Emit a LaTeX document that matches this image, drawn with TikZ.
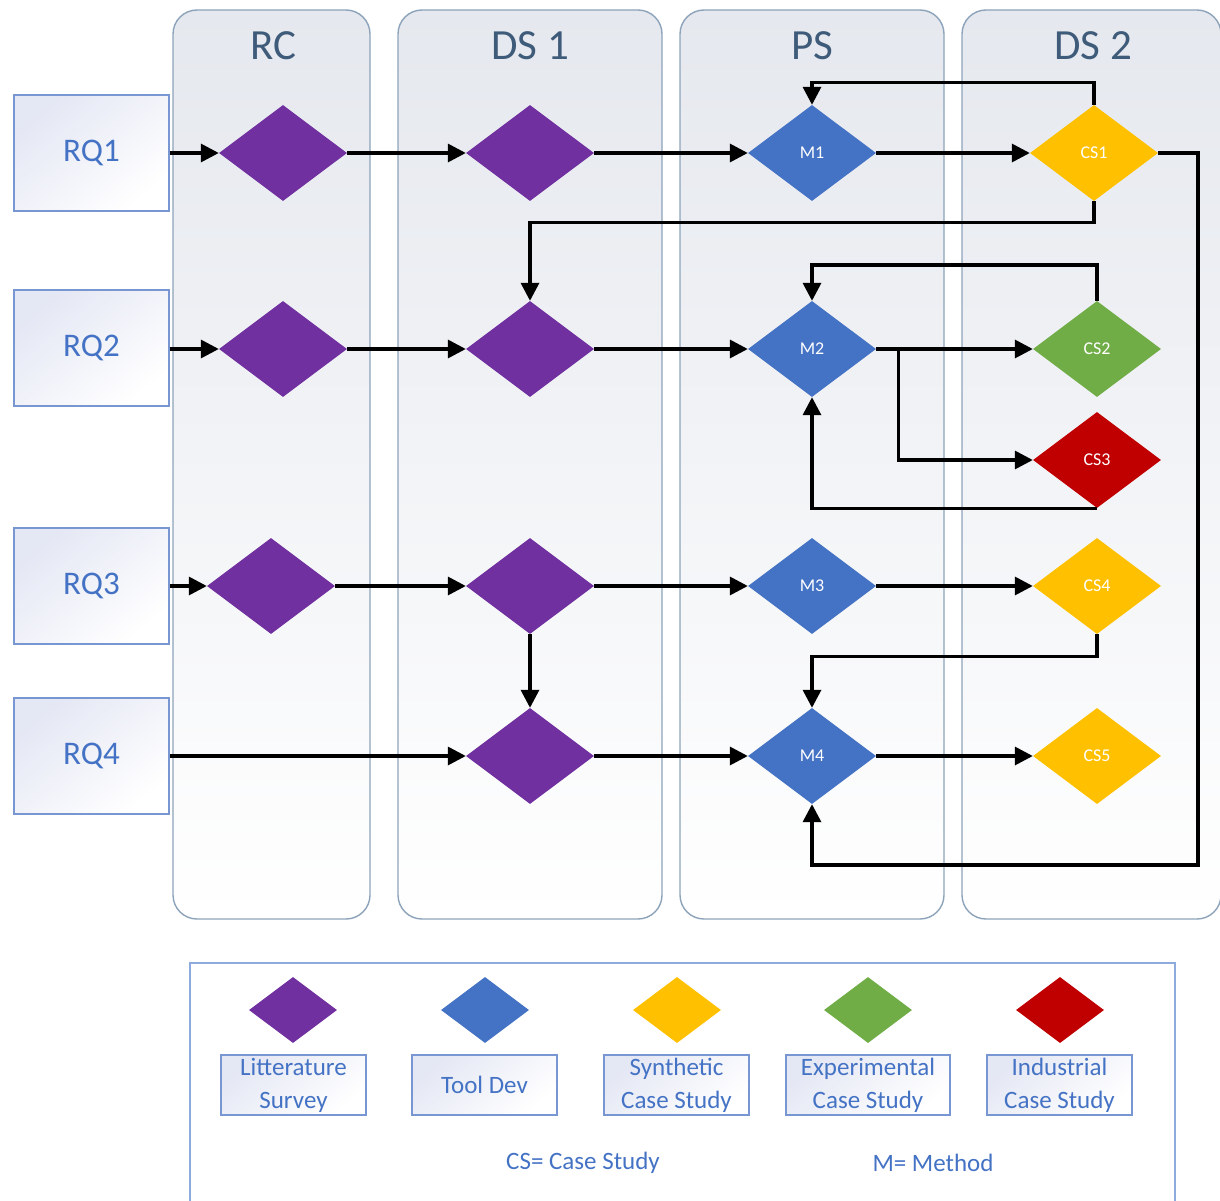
\documentclass[tikz,border=0pt]{standalone}
\usepackage{fontspec}
\setmainfont{Carlito}
\usetikzlibrary{shapes.geometric,arrows.meta}

\definecolor{laneBd}{HTML}{8DA3BA}
\definecolor{laneTop}{HTML}{E5E8EE}
\definecolor{laneTxt}{HTML}{3F5B7A}
\definecolor{rqBd}{HTML}{7896D2}
\definecolor{rqFill}{HTML}{E4E7F4}
\definecolor{rqTxt}{HTML}{4472C4}
\definecolor{legBd}{HTML}{8FAADC}
\definecolor{cPurple}{HTML}{7030A0}
\definecolor{cBlue}{HTML}{4472C4}
\definecolor{cYellow}{HTML}{FFC000}
\definecolor{cGreen}{HTML}{70AD47}
\definecolor{cRed}{HTML}{C00000}

\tikzset{
  lane/.style={draw=laneBd, line width=1.4pt, rounded corners=24pt,
    top color=laneTop, bottom color=white},
  lanetitle/.style={text=laneTxt, font=\fontsize{43}{48}\selectfont},
  rqbox/.style={draw=rqBd, line width=1.4pt, minimum width=155pt, minimum height=116pt,
    top color=rqFill, bottom color=white, shading angle=40,
    text=rqTxt, font=\fontsize{33}{38}\selectfont},
  dia/.style={diamond, minimum width=128pt, minimum height=96pt, inner sep=0pt,
    text=white, font=\fontsize{18}{20}\selectfont},
  legdia/.style={diamond, minimum width=88pt, minimum height=66pt, inner sep=0pt},
  legbox/.style={draw=rqBd, line width=1.4pt, minimum width=145pt, minimum height=60pt,
    top color=rqFill, bottom color=white, shading angle=40, inner sep=0pt,
    text=rqTxt, align=center, font=\fontsize{25}{33}\selectfont},
  legnote/.style={text=rqTxt, font=\fontsize{25}{28}\selectfont},
  arr/.style={line width=3.4pt, -{Triangle[length=18pt,width=18pt]}},
}

\begin{document}
\begin{tikzpicture}[x=1pt,y=-1pt]
\useasboundingbox (0,0) rectangle (1220,1201);

% swim lanes
\draw[lane] (173,10) rectangle (370,919);
\draw[lane] (398,10) rectangle (662,919);
\draw[lane] (680,10) rectangle (944,919);
\draw[lane] (962,10) rectangle (1221,919);
\node[lanetitle] (tRC)  at (273,46) {RC};
\node[lanetitle] (tDS1) at (530,46) {DS 1};
\node[lanetitle] (tPS)  at (812,46) {PS};
\node[lanetitle] (tDS2) at (1093,46) {DS 2};

% research questions
\node[rqbox] (rq1) at (91.5,153) {RQ1};
\node[rqbox] (rq2) at (91.5,348) {RQ2};
\node[rqbox] (rq3) at (91.5,586) {RQ3};
\node[rqbox] (rq4) at (91.5,756) {RQ4};

% RC column
\node[dia, fill=cPurple] (rc1) at (283,153) {};
\node[dia, fill=cPurple] (rc2) at (283,349) {};
\node[dia, fill=cPurple] (rc3) at (271,586) {};

% DS 1 column
\node[dia, fill=cPurple] (ds1) at (530,153) {};
\node[dia, fill=cPurple] (ds2) at (530,349) {};
\node[dia, fill=cPurple] (ds3) at (530,586) {};
\node[dia, fill=cPurple] (ds4) at (530,756) {};

% PS column
\node[dia, fill=cBlue] (m1) at (812,153) {M1};
\node[dia, fill=cBlue] (m2) at (812,349) {M2};
\node[dia, fill=cBlue] (m3) at (812,586) {M3};
\node[dia, fill=cBlue] (m4) at (812,756) {M4};

% DS 2 column
\node[dia, fill=cYellow] (cs1) at (1094,153) {CS1};
\node[dia, fill=cGreen]  (cs2) at (1097,349) {CS2};
\node[dia, fill=cRed]    (cs3) at (1097,460) {CS3};
\node[dia, fill=cYellow] (cs4) at (1097,586) {CS4};
\node[dia, fill=cYellow] (cs5) at (1097,756) {CS5};

% row 1
\draw[arr] (rq1.east |- rc1.west) -- (rc1.west);
\draw[arr] (rc1.east) -- (ds1.west);
\draw[arr] (ds1.east) -- (m1.west);
\draw[arr] (m1.east) -- (cs1.west);
\draw[arr] (cs1.north) -- ++(0,-22) -| (m1.north);
\draw[arr] (cs1.south) -- ++(0,21) -| (ds2.north);
\coordinate (loopR) at (1198,865);
\draw[arr] (cs1.east) -| (loopR) -| (m4.south);

% row 2
\draw[arr] (rq2.east |- rc2.west) -- (rc2.west);
\draw[arr] (rc2.east) -- (ds2.west);
\draw[arr] (ds2.east) -- (m2.west);
\draw[arr] (m2.east) -- (cs2.west);
\draw[arr] (m2.east) -- ++(22,0) |- (cs3.west);
\draw[arr] (cs2.north) -- ++(0,-36) -| (m2.north);
\draw[arr] (cs3.south) -| (m2.south);

% row 3
\draw[arr] (rq3.east |- rc3.west) -- (rc3.west);
\draw[arr] (rc3.east) -- (ds3.west);
\draw[arr] (ds3.east) -- (m3.west);
\draw[arr] (m3.east) -- (cs4.west);
\draw[arr] (ds3.south) -- (ds4.north);
\draw[arr] (cs4.south) -- ++(0,22) -| (m4.north);

% row 4
\draw[arr] (rq4.east |- ds4.west) -- (ds4.west);
\draw[arr] (ds4.east) -- (m4.west);
\draw[arr] (m4.east) -- (cs5.west);

% legend
\draw[draw=legBd, line width=1.4pt] (190,1203) -- (190,963) -- (1175,963) -- (1175,1203);
\node[legdia, fill=cPurple] (lg1) at (293,1010) {};
\node[legdia, fill=cBlue]   (lg2) at (485,1010) {};
\node[legdia, fill=cYellow] (lg3) at (677,1010) {};
\node[legdia, fill=cGreen]  (lg4) at (868,1010) {};
\node[legdia, fill=cRed]    (lg5) at (1060,1010) {};
\node[legbox] (lb1) at (293.5,1085) {Litterature\\Survey};
\node[legbox] (lb2) at (484.5,1085) {Tool Dev};
\node[legbox] (lb3) at (676.5,1085) {Synthetic\\Case Study};
\node[legbox, minimum width=164pt] (lb4) at (868,1085) {Experimental\\Case Study};
\node[legbox] (lb5) at (1059.5,1085) {Industrial\\Case Study};
\node[legnote] (n1) at (583,1163) {CS= Case Study};
\node[legnote] (n2) at (933,1163) {M= Method};
\end{tikzpicture}
\end{document}
